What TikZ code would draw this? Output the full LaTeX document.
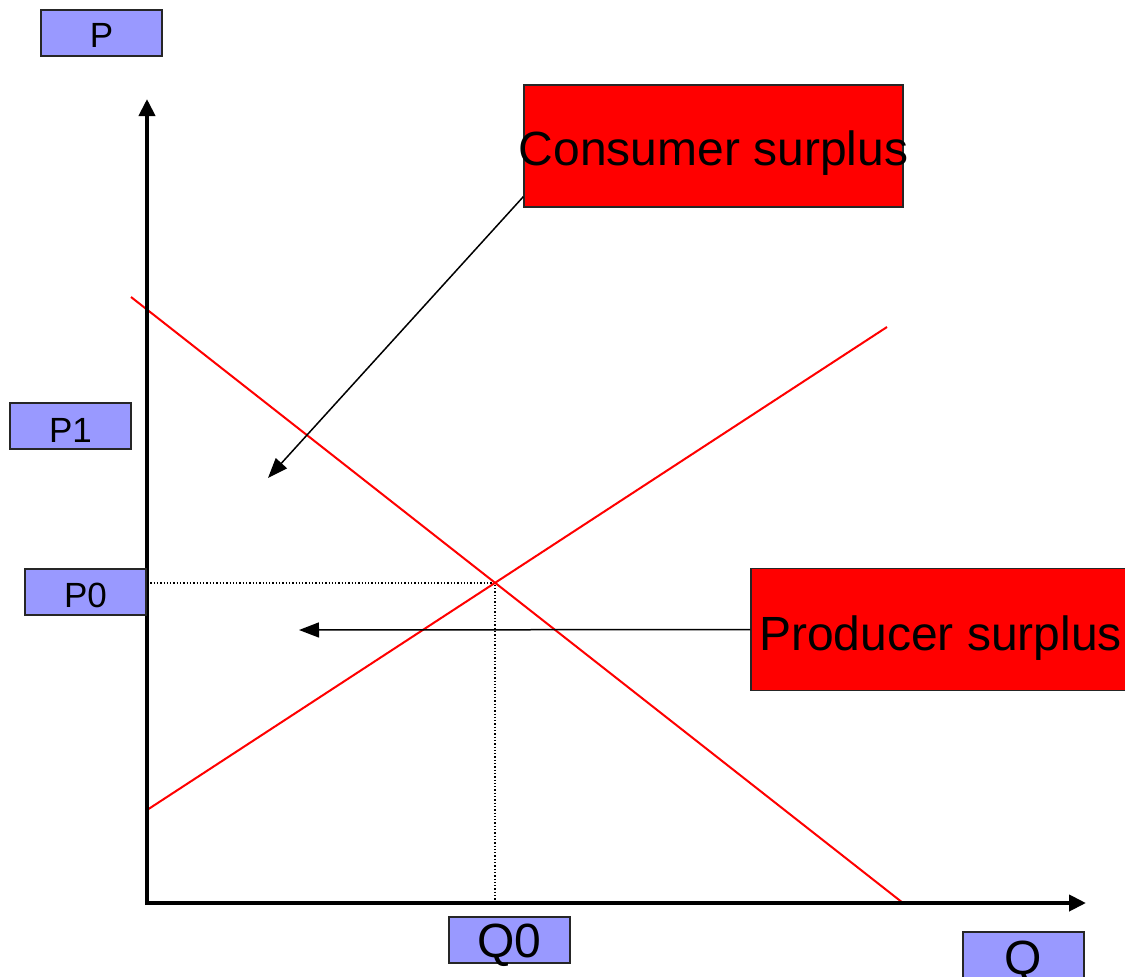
\documentclass[tikz,border=0pt]{standalone}
\usepackage{fontspec}
\setmainfont{Liberation Sans}
\usetikzlibrary{arrows.meta,positioning}
\definecolor{labelblue}{HTML}{9999FF}
\definecolor{surplusred}{HTML}{FF0000}
\newcommand{\lowered}[2]{\makebox[0pt]{\smash{\raisebox{-#1}{#2}}}}

\begin{document}
\begin{tikzpicture}[x=1pt,y=-1pt,
    axislabel/.style={draw=black!85,line width=1.4pt,fill=labelblue,inner sep=0pt,minimum width=121pt,minimum height=46pt},
    surplusbox/.style={draw=black!85,line width=1.4pt,fill=surplusred,inner sep=0pt,minimum width=379pt,minimum height=122pt,font=\fontsize{48}{50}\selectfont},
    curve/.style={surplusred,line width=2pt},
    pointer/.style={line width=1.5pt,-{Triangle[length=20pt,width=15pt]}}]
    \clip (0,0) rectangle (1125,977);
    \fill[white] (0,0) rectangle (1125,977);
    \coordinate (O) at (147,903);
    \coordinate (ytop) at (147,99);
    \coordinate (xend) at (1086,903);
    \coordinate (eq) at (495,583);
    \coordinate (dtop) at (131,297);
    \coordinate (dbot) at (903,903);
    \coordinate (sbot) at (147,810);
    \coordinate (stop) at (887,327);
    \coordinate (cstip) at (268,478);
    \coordinate (pstip) at (299,630);
    \draw[line width=1.3pt,dotted] (O|-eq) -- (eq) -- (eq|-O);
    \draw[curve] (dtop) -- (dbot);
    \draw[curve] (sbot) -- (stop);
    \draw[line width=4pt,-{Triangle[length=17pt,width=16pt]}] ([yshift=-2pt]O) -- (ytop);
    \draw[line width=4pt,-{Triangle[length=17pt,width=16pt]}] ([xshift=-2pt]O) -- (xend);
    \node[axislabel,font=\fontsize{35}{38}\selectfont] (plab) at (101.5,33) {\lowered{14pt}{P}};
    \node[axislabel,font=\fontsize{35}{38}\selectfont] (p1lab) at (70.5,426) {\lowered{16pt}{P1}};
    \node[axislabel,font=\fontsize{35}{38}\selectfont] (p0lab) at (85.5,592) {\lowered{15pt}{P0}};
    \node[axislabel,font=\fontsize{48}{50}\selectfont] (q0lab) at (509.5,940) {\lowered{17pt}{Q0}};
    \node[axislabel,font=\fontsize{48}{50}\selectfont] (qlab) at (1023.5,955) {\lowered{19pt}{Q}};
    \node[surplusbox] (cs) at (713.5,146) {\lowered{19pt}{Consumer surplus}};
    \node[surplusbox] (ps) at (940.5,629.5) {\lowered{20.5pt}{Producer surplus}};
    \draw[pointer] ([yshift=11pt]cs.south west) -- (cstip);
    \draw[pointer] (ps.west) -- (pstip);
  \end{tikzpicture}
\end{document}
